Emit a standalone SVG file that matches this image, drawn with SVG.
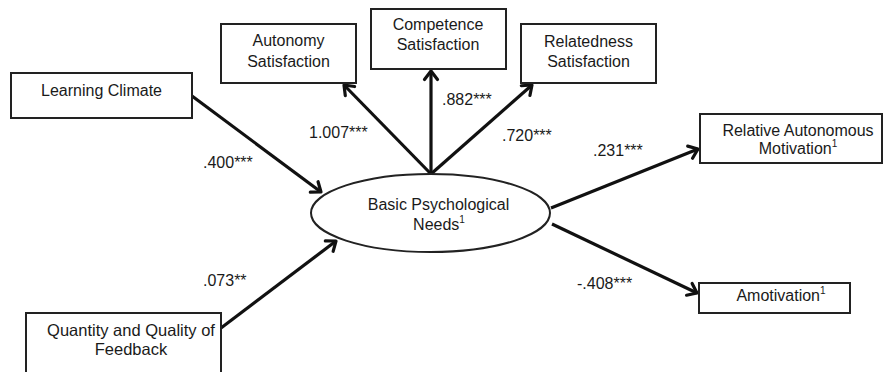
<svg xmlns="http://www.w3.org/2000/svg" width="883" height="372" viewBox="0 0 883 372">
<defs>
<style>
.box{fill:#fff;stroke:#222;stroke-width:2}
.t{font-family:"Liberation Sans",Arial,sans-serif;font-size:16px;fill:#1a1a1a;text-anchor:middle}
.l{font-family:"Liberation Sans",Arial,sans-serif;font-size:16px;fill:#1a1a1a}
.c{stroke:#111;stroke-width:3.2;fill:none}
</style>
<marker id="ah" viewBox="0 0 14 14" refX="12" refY="7" markerWidth="14" markerHeight="14" markerUnits="userSpaceOnUse" orient="auto" overflow="visible">
<path d="M3.5,0.5 L12,7 L3.5,13.5" fill="none" stroke="#111" stroke-width="3.2" stroke-linejoin="round" stroke-linecap="round"/>
</marker>
</defs>
<rect width="883" height="372" fill="#fff"/>
<g id="connectors">
<line class="c" x1="192" y1="96" x2="321" y2="192" marker-end="url(#ah)"/>
<line class="c" x1="221" y1="328" x2="336" y2="241" marker-end="url(#ah)"/>
<line class="c" x1="431" y1="174" x2="344" y2="85" marker-end="url(#ah)"/>
<line class="c" x1="431" y1="174" x2="431" y2="71" marker-end="url(#ah)"/>
<line class="c" x1="431" y1="174" x2="532" y2="85" marker-end="url(#ah)"/>
<line class="c" x1="551" y1="208" x2="698" y2="149" marker-end="url(#ah)"/>
<line class="c" x1="552" y1="224" x2="697" y2="293" marker-end="url(#ah)"/>
<text class="l" x="203" y="168">.400***</text>
<text class="l" x="203" y="286">.073**</text>
<text class="l" x="309" y="138">1.007***</text>
<text class="l" x="442" y="105">.882***</text>
<text class="l" x="502" y="141">.720***</text>
<text class="l" x="593" y="156">.231***</text>
<text class="l" x="577" y="289">-.408***</text>
</g>
<g id="learning-climate">
<rect class="box" x="11" y="73" width="181" height="45"/>
<text class="t" x="101.5" y="96">Learning Climate</text>
</g>
<g id="quantity-quality-feedback">
<rect class="box" x="26" y="313" width="195" height="75"/>
<text class="t" style="font-size:16.5px" x="131" y="336">Quantity and Quality of</text>
<text class="t" style="font-size:16.5px" x="131" y="355">Feedback</text>
</g>
<g id="autonomy-satisfaction">
<rect class="box" x="221" y="24" width="135" height="59"/>
<text class="t" x="288.5" y="46">Autonomy</text>
<text class="t" x="288.5" y="67">Satisfaction</text>
</g>
<g id="competence-satisfaction">
<rect class="box" x="371" y="9" width="135" height="60"/>
<text class="t" x="438" y="30">Competence</text>
<text class="t" x="438" y="50">Satisfaction</text>
</g>
<g id="relatedness-satisfaction">
<rect class="box" x="521" y="24" width="135" height="59"/>
<text class="t" x="588.5" y="47">Relatedness</text>
<text class="t" x="588.5" y="67">Satisfaction</text>
</g>
<g id="basic-psychological-needs">
<ellipse cx="430.5" cy="213" rx="119.5" ry="39" fill="#fff" stroke="#222" stroke-width="2"/>
<text class="t" x="438.5" y="210">Basic Psychological</text>
<text class="t" x="439" y="230">Needs<tspan font-size="10" dy="-7">1</tspan></text>
</g>
<g id="relative-autonomous-motivation">
<rect class="box" x="700" y="114" width="182" height="49"/>
<text class="t" x="798" y="136">Relative Autonomous</text>
<text class="t" x="798" y="154">Motivation<tspan font-size="10" dy="-7">1</tspan></text>
</g>
<g id="amotivation">
<rect class="box" x="699" y="283" width="151" height="30"/>
<text class="t" x="781" y="301">Amotivation<tspan font-size="10" dy="-7">1</tspan></text>
</g>
</svg>
